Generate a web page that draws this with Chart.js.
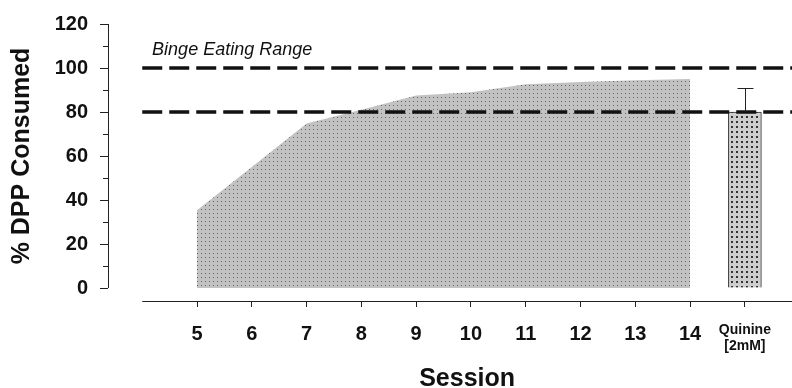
<!DOCTYPE html>
<html>
<head>
<meta charset="utf-8">
<script src="https://cdn.jsdelivr.net/npm/chart.js@4.4.0/dist/chart.umd.min.js"></script>
<style>
    html, body { margin: 0; padding: 0; background: #fff; }
    #wrap { width: 792px; height: 388px; }
</style>
</head>
<body>
<div id="wrap"><canvas id="dppChart" width="792" height="388"></canvas></div>
<script>
// % DPP consumed per session, plus the quinine test

const sessions = [5, 6, 7, 8, 9, 10, 11, 12, 13, 14];
const consumed = [35.4, 55, 74.8, 81, 87.5, 89, 92.6, 93.6, 94.4, 95];
const quinineMean = [80];
const quinineErr = [10.7];
const bingeLimits = [100, 80];
const yTicks = [0, 20, 40, 60, 80, 100, 120];
const xTicks = [5, 6, 7, 8, 9, 10, 11, 12, 13, 14, 15];
const quinineLabel = ['Quinine', '[2mM]'];

const FONT = '"Liberation Sans", Arial, Helvetica, sans-serif';
Chart.defaults.font.family = FONT;
Chart.defaults.color = '#111';

// dotted fill pattern
function dotPattern(bg, dot, size, dotSize) {
    const c = document.createElement('canvas');
    c.width = size;
    c.height = size;
    const g = c.getContext('2d');
    g.fillStyle = bg;
    g.fillRect(0, 0, size, size);
    g.fillStyle = dot;
    g.fillRect(1, 1, dotSize, dotSize);
    return g.createPattern(c, 'repeat');
}

const areaFill = dotPattern('#c2c2c2', '#666', 4, 1);
const barFill = dotPattern('#cecece', '#333', 5, 2);

// axis lines, minor ticks, error bar and text labels
const extras = {
    id: 'extras',
    afterDraw(chart) {
        const ctx = chart.ctx;
        const x = chart.scales.x;
        const y = chart.scales.y;
        const area = chart.chartArea;
        ctx.save();
        ctx.strokeStyle = '#222';
        ctx.lineWidth = 1;

        // y axis line 0..120
        ctx.beginPath();
        ctx.moveTo(area.left + 0.5, y.getPixelForValue(0));
        ctx.lineTo(area.left + 0.5, y.getPixelForValue(120));
        ctx.stroke();

        // minor y ticks
        for (let v = 10; v < 120; v += 20) {
            const py = Math.round(y.getPixelForValue(v)) + 0.5;
            ctx.beginPath();
            ctx.moveTo(area.left - 5, py);
            ctx.lineTo(area.left, py);
            ctx.stroke();
        }

        // x axis line
        ctx.beginPath();
        ctx.moveTo(x.getPixelForValue(4), area.bottom + 0.5);
        ctx.lineTo(area.right, area.bottom + 0.5);
        ctx.stroke();

        // quinine error bar
        const bx = Math.round(x.getPixelForValue(15)) + 0.5;
        const top = y.getPixelForValue(quinineMean[0] + quinineErr[0]);
        ctx.beginPath();
        ctx.moveTo(bx, y.getPixelForValue(quinineMean[0]));
        ctx.lineTo(bx, top);
        ctx.moveTo(bx - 8, Math.round(top) + 0.5);
        ctx.lineTo(bx + 8, Math.round(top) + 0.5);
        ctx.stroke();

        // annotation
        ctx.fillStyle = '#111';
        ctx.font = 'italic 18px ' + FONT;
        ctx.textAlign = 'left';
        ctx.textBaseline = 'alphabetic';
        ctx.fillText('Binge Eating Range', x.getPixelForValue(4.18), y.getPixelForValue(106));

        // x title, centred on the x axis line
        ctx.font = 'bold 25px ' + FONT;
        ctx.textAlign = 'center';
        ctx.fillText('Session', (x.getPixelForValue(4) + area.right) / 2, 386);

        // y title, centred on the 0..120 span
        ctx.translate(22, (y.getPixelForValue(0) + y.getPixelForValue(120)) / 2);
        ctx.rotate(-Math.PI / 2);
        ctx.textBaseline = 'middle';
        ctx.fillText('% DPP Consumed', 0, 0);
        ctx.restore();
    }
};

new Chart(document.getElementById('dppChart'), {
    data: {
        datasets: [
            {
                type: 'line',
                label: 'Upper limit',
                data: [{ x: 4, y: bingeLimits[0] }, { x: 15.86, y: bingeLimits[0] }],
                borderColor: '#111',
                borderWidth: 3.5,
                borderDash: [20, 7],
                pointRadius: 0,
                fill: false,
                order: 1
            },
            {
                type: 'line',
                label: 'Lower limit',
                data: [{ x: 4, y: bingeLimits[1] }, { x: 15.86, y: bingeLimits[1] }],
                borderColor: '#111',
                borderWidth: 3.5,
                borderDash: [20, 7],
                pointRadius: 0,
                fill: false,
                order: 1
            },
            {
                type: 'bar',
                label: 'Quinine',
                data: [{ x: 15, y: quinineMean[0] }],
                backgroundColor: barFill,
                borderColor: '#333',
                borderWidth: 1,
                barThickness: 33,
                order: 2
            },
            {
                type: 'line',
                label: 'Sessions',
                data: sessions.map((s, i) => ({ x: s, y: consumed[i] })),
                borderWidth: 0,
                borderColor: 'rgba(0,0,0,0)',
                backgroundColor: areaFill,
                pointRadius: 0,
                fill: 'origin',
                tension: 0,
                order: 3
            }
        ]
    },
    options: {
        responsive: false,
        animation: false,
        layout: {
            padding: { top: 23, left: 0, right: 0, bottom: 0 }
        },
        scales: {
            x: {
                type: 'linear',
                min: 3.375,
                max: 15.86,
                offset: false,
                afterBuildTicks: scale => {
                    scale.ticks = xTicks.map(v => ({ value: v }));
                },
                afterFit: scale => {
                    scale.height = 87;
                },
                border: { display: false },
                grid: {
                    offset: false,
                    drawOnChartArea: false,
                    tickLength: 6,
                    color: '#222'
                },
                ticks: {
                    padding: 15,
                    maxRotation: 0,
                    autoSkip: false,
                    color: '#111',
                    font: ctx => (ctx.tick && ctx.tick.value === 15)
                        ? { size: 14, weight: 'bold', lineHeight: 1.15 }
                        : { size: 20, weight: 'bold' },
                    callback: value => value === 15 ? quinineLabel : String(value)
                }
            },
            y: {
                min: -5.9,
                max: 120,
                afterBuildTicks: scale => {
                    scale.ticks = yTicks.map(v => ({ value: v }));
                },
                afterFit: scale => {
                    scale.width = 108;
                },
                border: { display: false },
                grid: {
                    drawOnChartArea: false,
                    tickLength: 8,
                    color: '#222'
                },
                ticks: {
                    padding: 12,
                    color: '#111',
                    font: { size: 20, weight: 'bold' }
                }
            }
        },
        plugins: {
            legend: { display: false },
            tooltip: { enabled: false }
        }
    },
    plugins: [extras]
});
</script>
</body>
</html>
